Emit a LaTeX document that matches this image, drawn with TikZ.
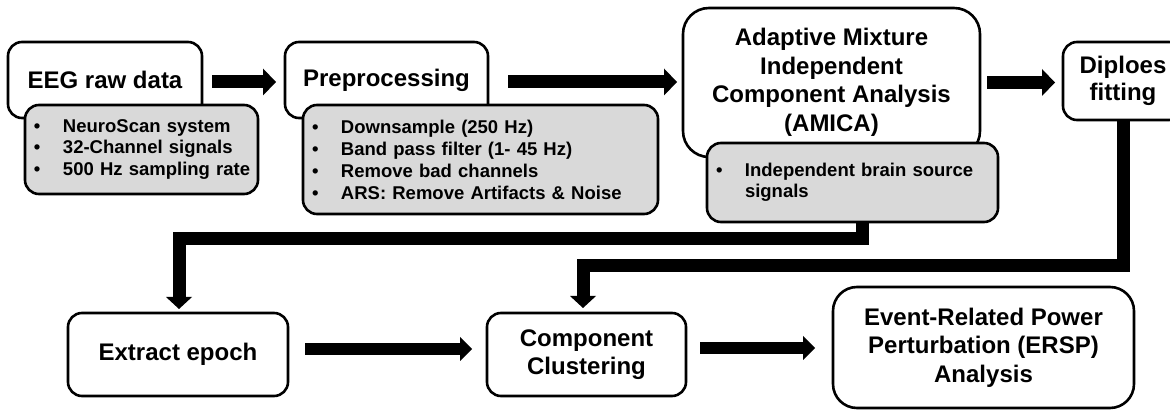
\documentclass[tikz,border=0pt]{standalone}
\usepackage{fontspec}
\setmainfont{Liberation Sans}
\usetikzlibrary{arrows.meta,calc}
\definecolor{graybg}{HTML}{D9D9D9}
\newcommand\itm[1]{\mbox{\makebox[29pt][l]{\textbullet}#1}}
\begin{document}
\begin{tikzpicture}[x=1pt,y=-1pt,
  wbox/.style={draw=black, line width=2.6pt, fill=white, rounded corners=14pt,
    align=center, inner sep=0pt, outer sep=0pt,
    font=\fontsize{24}{28.5}\selectfont\bfseries},
  gbox/.style={draw=black, line width=2.6pt, fill=graybg, rounded corners=14pt,
    align=left, inner xsep=9pt, inner ysep=0pt, outer sep=0pt,
    font=\fontsize{18.5}{21.3}\selectfont\bfseries},
  harrow/.style={line width=13pt, -{Triangle[length=13pt,width=27pt,line width=0pt]}},
  larrow/.style={line width=11.5pt, -{Triangle[length=12pt,width=24pt,line width=0pt]}},
  varrow/.style={line width=13pt, line join=miter,
    -{Triangle[length=12pt,width=26pt,line width=0pt]}},
]
\clip (0,0) rectangle (1170,411);
\fill[white] (0,0) rectangle (1170,411);

% white boxes
\node[wbox, minimum width=194pt, minimum height=76pt] (eeg) at (105,80) {EEG raw data};
\node[wbox, minimum width=203pt, minimum height=76pt] (pre) at (386.5,80) {Preprocessing};
\node[wbox, minimum width=297pt, minimum height=149pt, rounded corners=26pt] (amica) at (831.5,82.5)
  {Adaptive Mixture\\Independent\\Component Analysis\\(AMICA)};
\node[wbox, minimum width=120pt, minimum height=78pt, font=\fontsize{24}{26.5}\selectfont\bfseries] (dip) at (1123,81)
  {Diploes\\fitting};
\node[wbox, minimum width=220pt, minimum height=83pt] (epoch) at (178,354.5) {Extract epoch};
\node[wbox, minimum width=199pt, minimum height=83pt] (comp) at (586.5,354.5) {Component\\Clustering};
\node[wbox, minimum width=301pt, minimum height=121pt, rounded corners=24pt] (ersp) at (983.5,347.5)
  {Event-Related Power\\Perturbation (ERSP)\\Analysis};

% grey boxes
\node[gbox, minimum width=233pt, minimum height=89pt, text width=215pt] (eg) at (141.5,149.5)
  {\itm{NeuroScan system}\\\itm{32-Channel signals}\\\itm{500 Hz sampling rate}};
\node[gbox, minimum width=355pt, minimum height=109pt, text width=337pt,
  font=\fontsize{18.5}{22}\selectfont\bfseries] (pg) at (480.5,159.5)
  {\itm{Downsample (250 Hz)}\\\itm{Band pass filter (1- 45 Hz)}\\\itm{Remove bad channels}\\\itm{ARS: Remove Artifacts \& Noise}};
\node[gbox, minimum width=291pt, minimum height=79pt, text width=273pt] (ig) at (852.5,182.5)
  {\itm{Independent brain source}\\\hspace*{29pt}signals};

% top row arrows
\draw[harrow] ($(eeg.east)+(10,2)$) -- ($(pre.west)+(-9,2)$);
\draw[harrow] ($(pre.east)+(20,2)$) -- ($(pre.east -| amica.west)+(-6,2)$);
\draw[harrow] ($(amica.east)+(7,0)$) -- ($(amica.east -| dip.west)+(-8,0)$);

% feedback connectors
\draw[varrow] ($(ig.south)+(9.5,0)$) |- ($(epoch.north)+(1,-74.5)$) -- ($(epoch.north)+(1,-4)$);
\draw[varrow] (dip.south) |- ($(comp.north)+(-3.5,-47)$) -- ($(comp.north)+(-3.5,-5)$);

% bottom row arrows
\draw[larrow] ($(epoch.east)+(17,-5.5)$) -- ($(epoch.east -| comp.west)+(-15,-5.5)$);
\draw[larrow] ($(comp.east)+(14,-6.5)$) -- ($(comp.east -| ersp.west)+(-18,-6.5)$);
\end{tikzpicture}
\end{document}
